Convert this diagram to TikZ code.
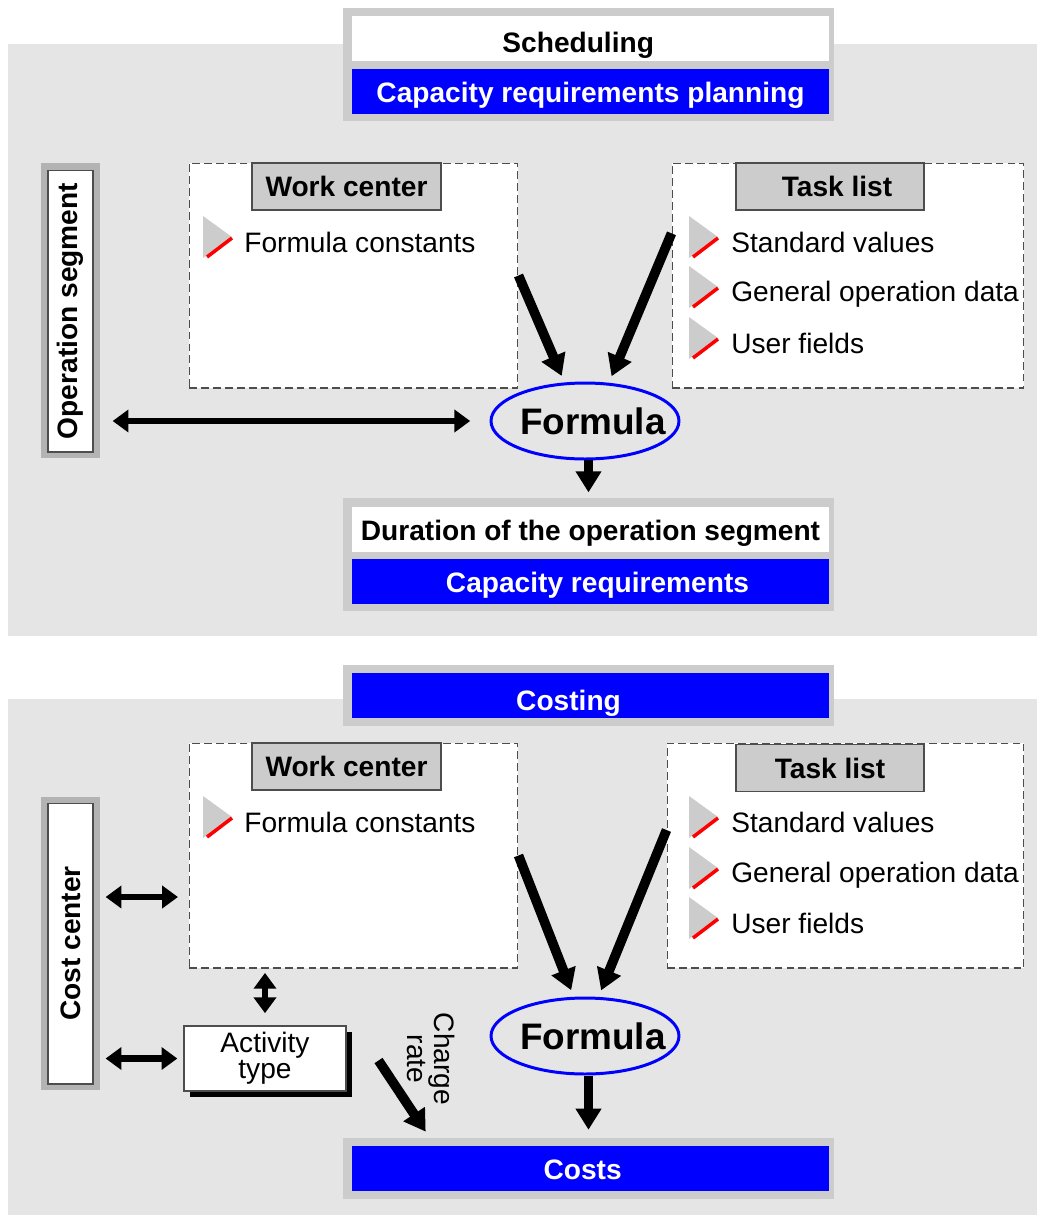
\documentclass[tikz,border=0pt]{standalone}
\usepackage{fontspec}
\setmainfont{Liberation Sans}
\usetikzlibrary{arrows.meta,shapes.geometric,shadows,calc}
\definecolor{panelgray}{HTML}{E5E5E5}
\definecolor{framegray}{HTML}{CCCCCC}
\definecolor{sidegray}{HTML}{B3B3B3}
\definecolor{sapblue}{HTML}{0000FF}
\definecolor{linegray}{HTML}{4D4D4D}
\newcommand{\boldtext}{\bfseries\fontsize{16}{18}\selectfont}
\tikzset{
  frame/.style={fill=framegray, inner sep=0pt, minimum width=9.82cm},
  whitebar/.style={fill=white, inner sep=0pt, minimum width=9.54cm, minimum height=0.9cm, text height=12.5pt, text depth=0pt, font=\boldtext},
  bluebar/.style={whitebar, fill=sapblue, text=white},
  objbox/.style={draw=linegray, dash pattern=on 4.5pt off 2.3pt, line width=0.6pt, fill=white, minimum height=4.5cm, inner sep=0pt},
  headbox/.style={draw=linegray, line width=0.6pt, fill=framegray, minimum width=3.78cm, minimum height=0.94cm, inner sep=0pt, font=\boldtext},
  sideframe/.style={fill=sidegray, minimum width=1.18cm, inner sep=0pt},
  sidebox/.style={draw=linegray, line width=0.6pt, fill=white, rotate=90, minimum height=0.9cm, inner sep=0pt, font=\boldtext},
  formulabox/.style={ellipse, draw=sapblue, line width=1.7pt, minimum width=3.76cm, minimum height=1.52cm, inner sep=0pt, font=\bfseries\fontsize{21}{25}\selectfont},
  actbox/.style={draw=linegray, line width=0.6pt, fill=white, minimum width=3.24cm, minimum height=1.3cm, align=center, font=\fontsize{16}{12.5}\selectfont, drop shadow={shadow xshift=3.4pt, shadow yshift=-3.4pt, fill=black, opacity=1}},
  item/.style={anchor=west, inner sep=0pt},
  bigarrow/.style={line width=5.5pt, -{Triangle[length=12pt,width=14pt]}},
  dblarrow/.style={line width=3.6pt, {Triangle[length=9pt,width=12.5pt]}-{Triangle[length=9pt,width=12.5pt]}}
}
\begin{document}
\begin{tikzpicture}[x=0.02cm,y=-0.02cm,font=\fontsize{16}{18}\selectfont]
    \useasboundingbox (0,0) rectangle (1037,1215);
    \fill[panelgray] (8,44) rectangle (1037,636);
    \fill[panelgray] (8,699) rectangle (1037,1215);

    \node[frame, minimum height=2.26cm] (schedframe) at (588.5,64.5) {};
    \node[whitebar] (sched) at (590.5,38.5) {\raisebox{-1.5pt}{Scheduling}\kern14pt};
    \node[bluebar] (crp) at (590.5,91.5) {Capacity requirements planning};
    \node[frame, minimum height=2.26cm] (durframe) at (588.5,554.5) {};
    \node[whitebar] (dur) at (590.5,529.5) {Duration of the operation segment};
    \node[bluebar] (capreq) at (590.5,581.5) {\kern8pt Capacity requirements};
    \node[frame, minimum height=1.22cm] (costingframe) at (588.5,695.5) {};
    \node[bluebar] (costing) at (590.5,695.5) {\raisebox{-2pt}{Costing}\kern25pt};
    \node[frame, minimum height=1.22cm] (costframe) at (588.5,1168.5) {};
    \node[bluebar] (costs) at (590.5,1168.5) {Costs\kern9pt};

    \node[sideframe, minimum height=5.9cm] (opframe) at (70.5,310.5) {};
    \node[sidebox, minimum width=5.64cm] (opseg) at (70.5,311) {Operation segment};
    \node[sideframe, minimum height=5.86cm] (ccframe) at (70.5,943.5) {};
    \node[sidebox, minimum width=5.62cm] (cc) at (70.5,943.5) {Cost center};

    \node[objbox, minimum width=6.58cm] (wc1) at (353.5,275.5) {};
    \node[headbox] (wchead1) at (346.5,186.5) {Work center};
    \node[objbox, minimum width=7.04cm] (tl1) at (848,275.5) {};
    \node[headbox, minimum width=3.76cm] (tlhead1) at (830,186.5) {\kern8pt Task list};
    \node[objbox, minimum width=6.58cm] (wc2) at (353.5,855.5) {};
    \node[headbox] (wchead2) at (346.5,766.5) {Work center};
    \node[objbox, minimum width=7.14cm] (tl2) at (845.5,855.5) {};
    \node[headbox, minimum width=3.76cm] (tlhead2) at (830,768) {Task list};

    \foreach \bx/\by in {203/242,203/822,689/242,689/292,689/343,689/822,689/873,689/923} {
        \fill[framegray] (\bx,\by-26) -- (\bx+29,\by-5) -- (\bx,\by+16) -- cycle;
        \draw[red, line width=2pt] (\bx+4,\by+15) -- (\bx+29,\by-4);
    }
    \node[item] (wcitem1) at (244,242) {Formula constants};
    \node[item] (wcitem2) at (244,822) {Formula constants};
    \foreach \y/\lab [count=\i] in {242/Standard values,294/General operation data,343/User fields}
        \node[item] (tlitemA\i) at (731,\y) {\lab};
    \foreach \y/\lab [count=\i] in {822/Standard values,875/General operation data,923/User fields}
        \node[item] (tlitemB\i) at (731,\y) {\lab};

    \node[formulabox] (form1) at (585,421) {\makebox[0pt]{\hspace{9pt}Formula}};
    \node[formulabox] (form2) at (585,1036) {\makebox[0pt]{\hspace{9pt}Formula}};
    \node[actbox] (act) at (265,1058.5) {Activity\\type};
    \node[rotate=-90, align=center, font=\fontsize{16}{15}\selectfont] (chrate) at (431,1059) {Charge\\rate};

    \draw[bigarrow, shorten >=4pt] (wc1.east) -- (form1.118);
    \draw[bigarrow, shorten >=4pt] ([yshift=24pt]tl1.west) -- (form1.58);
    \draw[bigarrow, shorten >=3pt] (form1.south -| durframe.north) -- (durframe.north);
    \draw[dblarrow, shorten <=7pt, shorten >=11pt] (opframe.east |- form1.west) -- (form1.west);

    \draw[bigarrow, shorten >=4pt] (wc2.east) -- (form2.106);
    \draw[bigarrow, shorten >=4pt] ([yshift=14.5pt]tl2.west) -- (form2.71);
    \draw[bigarrow, shorten >=4.5pt] (form2.south -| costframe.north) -- (costframe.north);
    \coordinate (wcin) at ($(wc2.west)+(0,41.5)$);
    \draw[dblarrow, shorten <=3pt, shorten >=6pt] (ccframe.east |- wcin) -- (wcin);
    \draw[dblarrow, shorten <=3pt, shorten >=3.5pt] (ccframe.east |- act.west) -- (act.west);
    \draw[dblarrow, shorten <=2.5pt, shorten >=7pt] (act.north |- wc2.south) -- (act.north);
    \draw[bigarrow] ($(act.east)+(32,2)$) -- ($(costframe.north west)+(83,-6)$);
\end{tikzpicture}
\end{document}
